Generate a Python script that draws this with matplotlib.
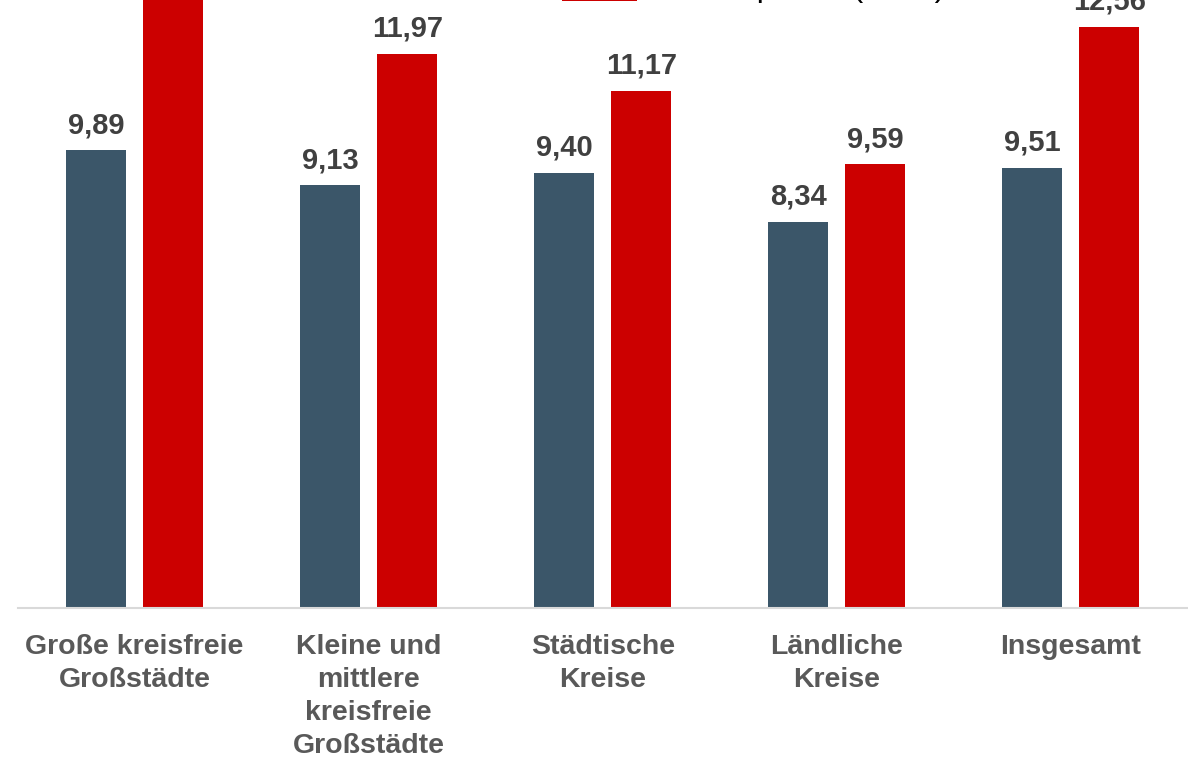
import matplotlib.pyplot as plt
import numpy as np

plt.rcParams['font.family'] = ['Liberation Sans', 'DejaVu Sans']

# Daten
kategorien = ["Große kreisfreie\nGroßstädte",
              "Kleine und\nmittlere\nkreisfreie\nGroßstädte",
              "Städtische\nKreise",
              "Ländliche\nKreise",
              "Insgesamt"]
werte_grau = [9.89, 9.13, 9.40, 8.34, 9.51]
werte_rot = [14.29, 11.97, 11.17, 9.59, 12.56]
legende = ["Bestandsmieten (2022)", "Kaltmietpreise (2022)"]

farbe_grau = "#3B5669"
farbe_rot = "#CC0000"

fig = plt.figure(figsize=(11.88, 7.58), dpi=100)
ax = fig.add_axes([17.5 / 1188, 150 / 758, 1 - 17.5 / 1188, 608 / 758])

x = np.arange(len(kategorien))
breite = 0.256
versatz = 0.1645

b1 = ax.bar(x - versatz, werte_grau, breite, color=farbe_grau, label=legende[0])
b2 = ax.bar(x + versatz, werte_rot, breite, color=farbe_rot, label=legende[1])

# Werte über den Balken
for balken in (b1, b2):
    for rect in balken:
        h = rect.get_height()
        ax.annotate(f"{h:.2f}".replace(".", ","),
                    (rect.get_x() + rect.get_width() / 2, h),
                    xytext=(0, 8), textcoords="offset points",
                    ha="center", va="bottom", fontsize=21,
                    fontweight="bold", color="#404040", clip_on=False)

ax.set_xlim(-0.5, 4.5)
ax.set_ylim(0, 608 / 46.28)
ax.set_xticks(x)
ax.set_xticklabels(kategorien, fontsize=20.5, fontweight="bold",
                   color="#595959", linespacing=1.35)
ax.tick_params(axis="x", length=0, pad=19)
ax.set_yticks([])
for s in ["top", "right", "left"]:
    ax.spines[s].set_visible(False)
ax.spines["bottom"].set_color("#D9D9D9")
ax.spines["bottom"].set_linewidth(1.5)

# Legende (oben abgeschnitten): erst zeichnen, dann so verschieben,
# dass das rote Kästchen unten links bei (562, 1 px unter Oberkante) liegt
x0, y0 = 551 / 1188, 1 - 31 / 758
leg = fig.legend(handles=[b1, b2], loc="lower left",
                 bbox_to_anchor=(x0, y0), frameon=False,
                 fontsize=23, handlelength=2.34, handleheight=1.15,
                 handletextpad=0.12, labelcolor="black")
fig.canvas.draw()
hb = leg.legend_handles[1].get_window_extent(fig.canvas.get_renderer())
dx = 562 - hb.x0
dy = (758 - 1) - hb.y0
leg.set_bbox_to_anchor((x0 + dx / 1188, y0 + dy / 758), transform=fig.transFigure)

fig.savefig("out.png", dpi=100)
